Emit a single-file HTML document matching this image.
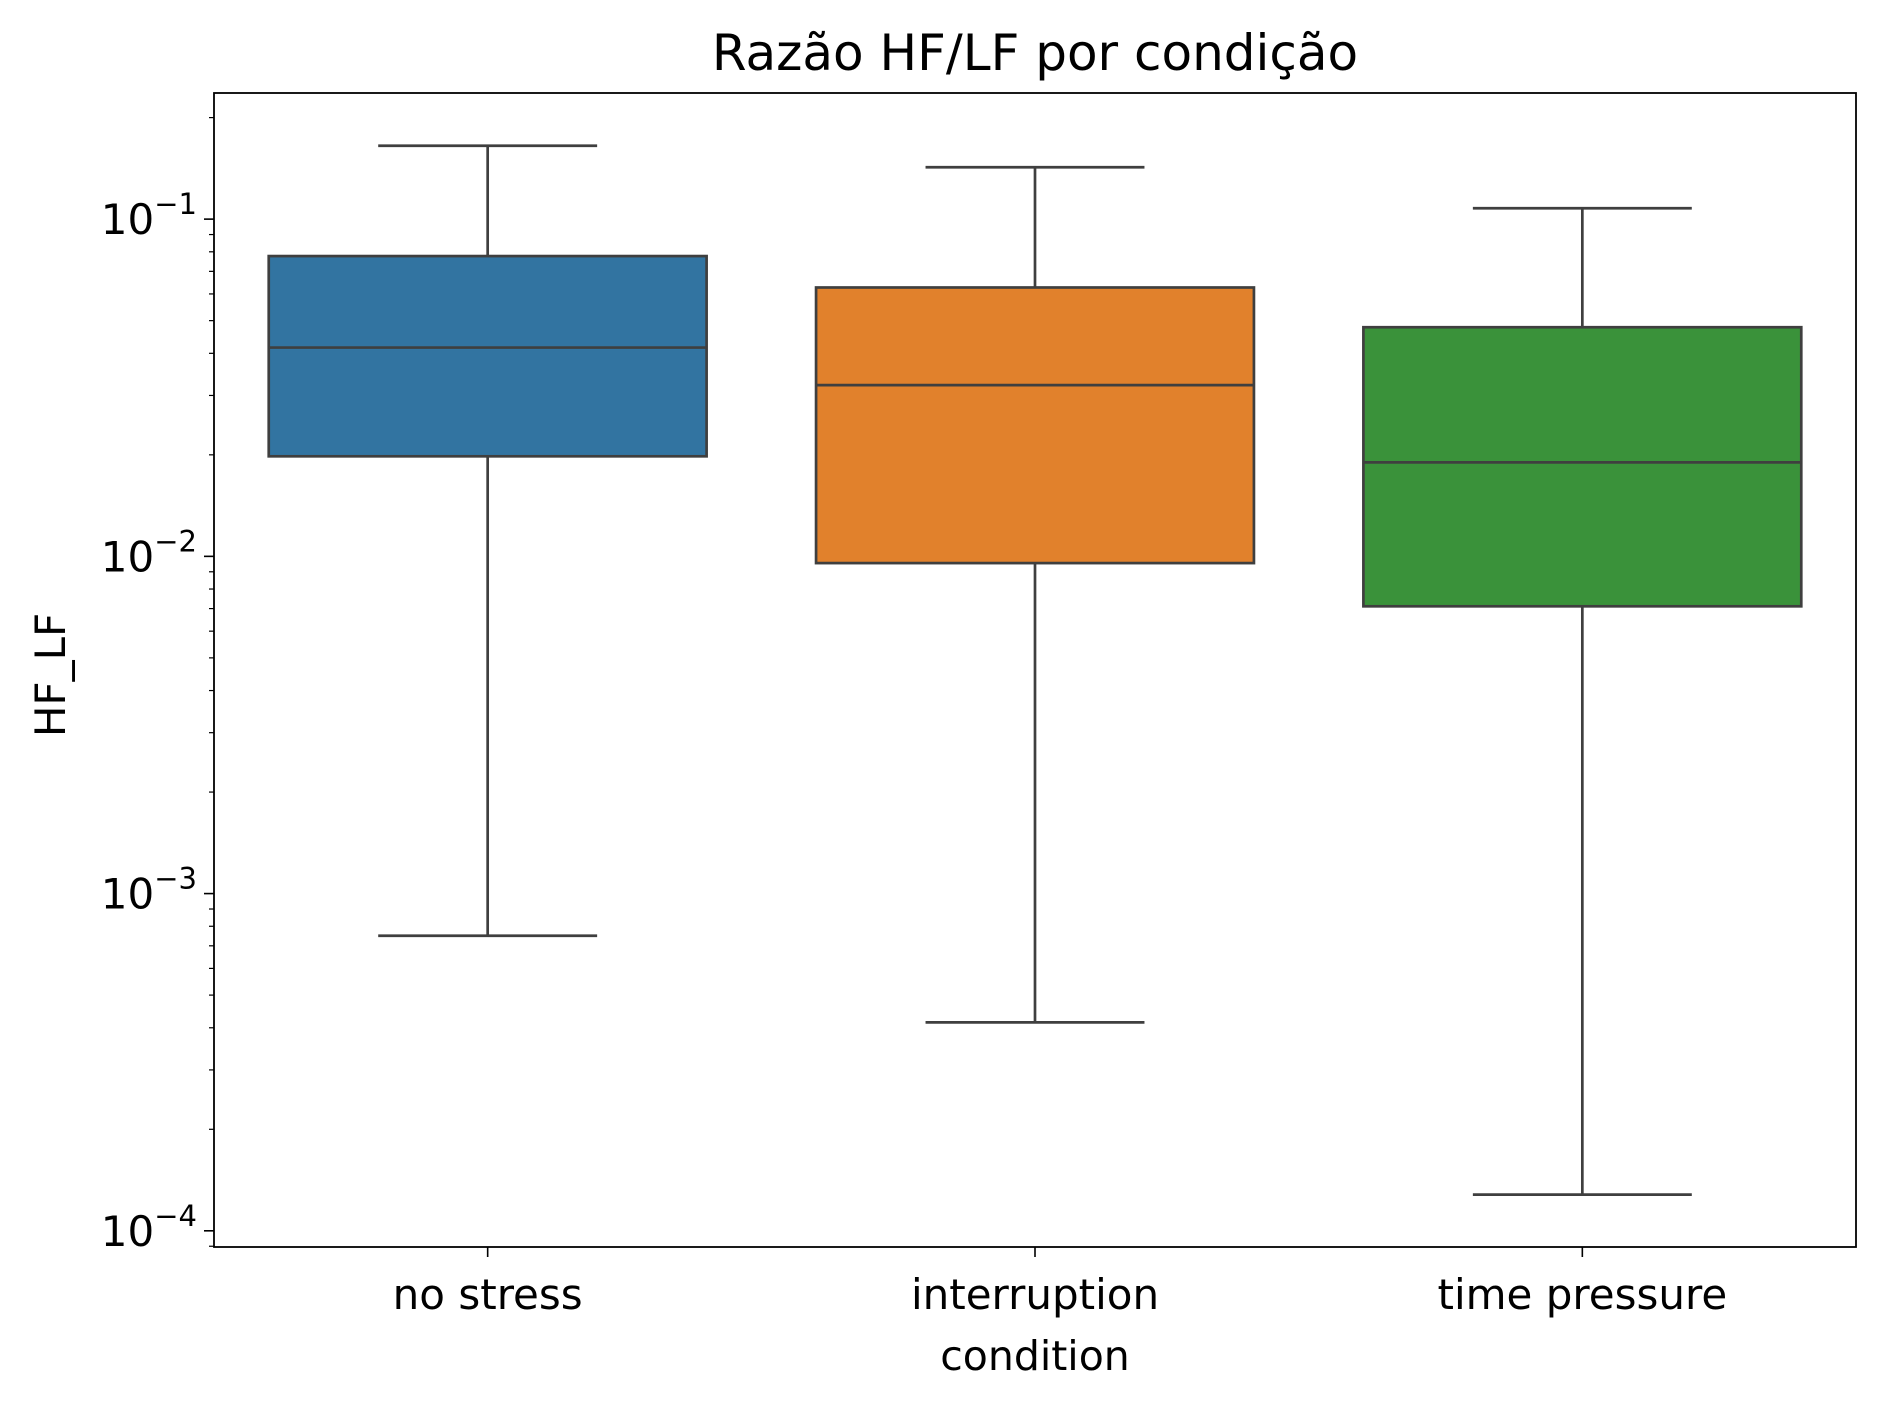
<!DOCTYPE html>
<html><head><meta charset="utf-8"><style>
body{margin:0;background:#fff;}
svg text{font-family:"DejaVu Sans","Liberation Sans",sans-serif;fill:#000;}
</style></head><body>
<svg id="chart" width="1886" height="1407" viewBox="0 0 1886 1407" xmlns="http://www.w3.org/2000/svg">
<text x="1035" y="70" font-size="50" text-anchor="middle">Razão HF/LF por condição</text>
<g id="plot"></g>
<text x="1035" y="1370" font-size="41" text-anchor="middle">condition</text>
<text x="0" y="0" font-size="42" text-anchor="middle" transform="translate(65,675) rotate(-90)">HF_LF</text>
</svg>
<script>
const categories=["no stress","interruption","time pressure"];
const whiskerHigh=[0.165,0.1425,0.1077];
const q3=[0.0777,0.0627,0.0478];
const median=[0.0416,0.0322,0.0190];
const q1=[0.0198,0.00955,0.00711];
const whiskerLow=[0.00075,0.000415,0.000128];
const colors=["#3274a1","#e1812c","#3a923a"];
const majorTicks=[-4,-3,-2,-1];
const tickLabels=["−4","−3","−2","−1"];

const L=214,R=1856,T=93,B=1247;
const logMin=-4.048,logMax=-0.626;
const ns="http://www.w3.org/2000/svg";
const g=document.getElementById('plot');
function y(v){return B-(Math.log10(v)-logMin)/(logMax-logMin)*(B-T);}
function yl(l){return B-(l-logMin)/(logMax-logMin)*(B-T);}
const band=(R-L)/categories.length;
function x(i){return L+band*(i+0.5);}
function el(t,a){const e=document.createElementNS(ns,t);for(const k in a)e.setAttribute(k,a[k]);g.appendChild(e);return e;}
const ec="#3f3f3f",bw=band*0.8,cw=bw/4;
categories.forEach((c,i)=>{
  const cx=x(i);
  let e=el('line',{x1:cx,x2:cx,y1:y(whiskerHigh[i]),y2:y(q3[i]),stroke:ec,'stroke-width':2.7});
  
  
  e=el('line',{x1:cx,x2:cx,y1:y(q1[i]),y2:y(whiskerLow[i]),stroke:ec,'stroke-width':2.7});
  
  
  e=el('line',{x1:cx-cw,x2:cx+cw,y1:y(whiskerHigh[i]),y2:y(whiskerHigh[i]),stroke:ec,'stroke-width':2.7});
  
  
  e=el('line',{x1:cx-cw,x2:cx+cw,y1:y(whiskerLow[i]),y2:y(whiskerLow[i]),stroke:ec,'stroke-width':2.7});
  
  
  e=el('rect',{x:cx-bw/2,y:y(q3[i]),width:bw,height:y(q1[i])-y(q3[i]),fill:colors[i],stroke:ec,'stroke-width':2.7});
  
  
  e=el('line',{x1:cx-bw/2,x2:cx+bw/2,y1:y(median[i]),y2:y(median[i]),stroke:ec,'stroke-width':2.7});
  
  
  e=el('line',{x1:cx,x2:cx,y1:B,y2:B+10,stroke:'#000','stroke-width':1.6});
  
  
  e=el('text',{x:cx,y:B+62,'font-size':42,'text-anchor':'middle'});
  e.textContent=c;
  
  
});
for(let d=-5;d<=-1;d++){
  for(let m=1;m<10;m++){
    const l=d+Math.log10(m);
    if(l<logMin||l>logMax)continue;
    const major=m===1;
    const yy=yl(l);
    const e=el('line',{x1:L-(major?10:5),x2:L,y1:yy,y2:yy,stroke:'#000','stroke-width':major?1.6:1.2});
    
    
  }
}
majorTicks.forEach((t,i)=>{
  const yy=yl(t);
  const e=el('text',{x:L-17,y:yy+15,'font-size':42,'text-anchor':'end'});
  
  
  e.innerHTML='10<tspan dy="-20" font-size="29">'+tickLabels[i]+'</tspan>';
});
const fr=el('rect',{x:L,y:T,width:R-L,height:B-T,fill:'none',stroke:'#000','stroke-width':1.8});


</script>
</body></html>
